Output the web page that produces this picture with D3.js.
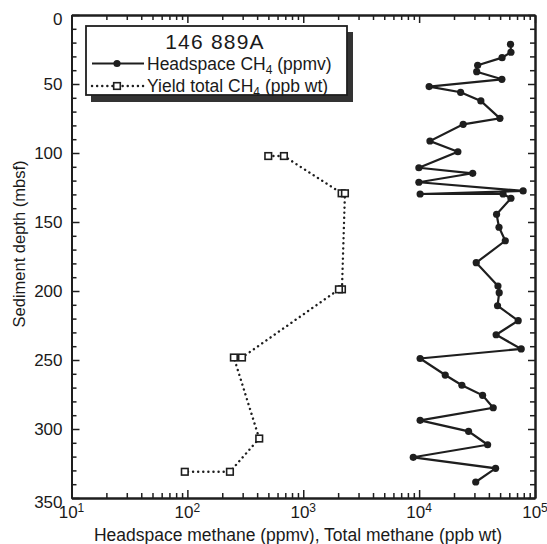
<!DOCTYPE html>
<html>
<head>
<meta charset="utf-8">
<script src="https://cdn.jsdelivr.net/npm/d3@7"></script>
<style>
  html, body { margin: 0; padding: 0; background: #fff; }
  svg { display: block; }
  text { font-family: "Liberation Sans", Arial, Helvetica, sans-serif; fill: #1a1a1a; }
</style>
</head>
<body>
<svg id="chart" width="547" height="544"></svg>
<script>
// ---- Data ----
const headspaceDepth = [21.2, 27.0, 30.9, 36.4, 41.1, 46.6, 51.9, 56.0, 62.3, 74.9, 79.2, 91.3, 99.1, 110.7, 114.7,
  121.2, 127.5, 129.7, 129.7, 132.8, 144.4, 153.8, 163.6, 179.5, 196.4, 201.2, 210.7, 221.5, 231.7, 242.0,
  248.9, 260.9, 268.3, 275.6, 284.6, 293.7, 301.7, 311.4, 320.5, 328.5, 338.4];
const headspaceCH4 = [61500, 62000, 52000, 32000, 31400, 51800, 12200, 22800, 34100, 49800, 24000, 12400, 21600, 9950, 29000,
  9950, 79000, 10200, 53000, 62000, 46600, 48900, 55400, 31100, 47900, 49100, 47500, 71600, 46200, 76000,
  10200, 16800, 23400, 35300, 43600, 10200, 26700, 39000, 8900, 45700, 30800];

const yieldDepth = [102.2, 102.2, 129.2, 129.2, 198.8, 198.8, 248.2, 248.2, 306.9, 331.0, 331.0];
const yieldCH4   = [499, 681, 2144, 2290, 2158, 2032, 296, 252, 417, 233, 95];

const xMajorTicks = [10, 100, 1000, 10000, 100000];
const xTickExponents = ["1", "2", "3", "4", "5"];
const yMajorTicks = [0, 50, 100, 150, 200, 250, 300, 350];

const legendTitle = "146 889A";
const seriesNames = [["Headspace CH", "4", " (ppmv)"], ["Yield total CH", "4", " (ppb wt)"]];
const xTitle = "Headspace methane (ppmv), Total methane (ppb wt)";
const yTitle = "Sediment depth (mbsf)";

// ---- Layout ----
const L = 71.5, R = 535, T = 15, B = 498;
const ink = "#1e1e1e";
const svg = d3.select("#chart");

const x = d3.scaleLog().domain([10, 100000]).range([L, R]);
const y = d3.scaleLinear().domain([0, 350]).range([T, B]);

const xMinor = x.ticks().filter(v => !xMajorTicks.includes(v));
const yMinor = d3.range(0, 351, 10).filter(v => v % 50 !== 0);

function styleAxis(g) {
  g.selectAll("path.domain").attr("stroke", ink).attr("stroke-width", 2);
  g.selectAll(".tick line").attr("stroke", ink).attr("stroke-width", 1.5);
  g.selectAll(".tick text").remove();
}

// bottom axis
svg.append("g").attr("transform", `translate(0,${B})`)
  .call(d3.axisBottom(x).tickValues(xMajorTicks).tickSizeInner(-8).tickSizeOuter(0).tickFormat(""))
  .call(styleAxis);
svg.append("g").attr("transform", `translate(0,${B})`)
  .call(d3.axisBottom(x).tickValues(xMinor).tickSizeInner(-5).tickSizeOuter(0).tickFormat(""))
  .call(styleAxis);
// top axis
svg.append("g").attr("transform", `translate(0,${T})`)
  .call(d3.axisTop(x).tickValues(xMajorTicks).tickSizeInner(-8).tickSizeOuter(0).tickFormat(""))
  .call(styleAxis);
svg.append("g").attr("transform", `translate(0,${T})`)
  .call(d3.axisTop(x).tickValues(xMinor).tickSizeInner(-5).tickSizeOuter(0).tickFormat(""))
  .call(styleAxis);
// left axis
svg.append("g").attr("transform", `translate(${L},0)`)
  .call(d3.axisLeft(y).tickValues(yMajorTicks).tickSizeInner(-8).tickSizeOuter(0).tickFormat(""))
  .call(styleAxis);
svg.append("g").attr("transform", `translate(${L},0)`)
  .call(d3.axisLeft(y).tickValues(yMinor).tickSizeInner(-5).tickSizeOuter(0).tickFormat(""))
  .call(styleAxis);
// right axis
svg.append("g").attr("transform", `translate(${R},0)`)
  .call(d3.axisRight(y).tickValues(yMajorTicks).tickSizeInner(-7).tickSizeOuter(0).tickFormat(""))
  .call(styleAxis);
svg.append("g").attr("transform", `translate(${R},0)`)
  .call(d3.axisRight(y).tickValues(yMinor).tickSizeInner(-5).tickSizeOuter(0).tickFormat(""))
  .call(styleAxis);

// y tick labels
svg.append("g").selectAll("text").data(yMajorTicks).join("text")
  .attr("x", L - 9)
  .attr("y", (d, i) => y(d) + (i === 0 || i === yMajorTicks.length - 1 ? 4 : 0))
  .attr("dy", "0.35em")
  .attr("text-anchor", "end")
  .attr("font-size", 17)
  .text(d => d);

// x tick labels with superscripts
const xl = svg.append("g").selectAll("text").data(xMajorTicks).join("text")
  .attr("x", d => x(d))
  .attr("y", 518)
  .attr("text-anchor", "middle")
  .attr("font-size", 17);
xl.append("tspan").text("10");
xl.append("tspan").attr("dy", -6).attr("font-size", 12).text((d, i) => xTickExponents[i]);

// axis titles
svg.append("text").attr("x", 298).attr("y", 541).attr("text-anchor", "middle")
  .attr("font-size", 17.5).text(xTitle);
svg.append("text").attr("transform", `translate(25,244) rotate(-90)`).attr("text-anchor", "middle")
  .attr("font-size", 16.5).text(yTitle);

// ---- Series ----
const hsData = headspaceDepth.map((d, i) => ({ d, v: headspaceCH4[i] }));
const ydData = yieldDepth.map((d, i) => ({ d, v: yieldCH4[i] }));
const line = d3.line().x(p => x(p.v)).y(p => y(p.d));

svg.append("path").datum(ydData).attr("d", line)
  .attr("fill", "none").attr("stroke", ink).attr("stroke-width", 2.4)
  .attr("stroke-dasharray", "0.1,5").attr("stroke-linecap", "round");
svg.append("g").selectAll("rect").data(ydData).join("rect")
  .attr("x", p => x(p.v) - 3.3).attr("y", p => y(p.d) - 3.3)
  .attr("width", 6.6).attr("height", 6.6)
  .attr("fill", "#fff").attr("stroke", ink).attr("stroke-width", 1.6);

svg.append("path").datum(hsData).attr("d", line)
  .attr("fill", "none").attr("stroke", ink).attr("stroke-width", 2.2);
svg.append("g").selectAll("circle").data(hsData).join("circle")
  .attr("cx", p => x(p.v)).attr("cy", p => y(p.d)).attr("r", 3.6)
  .attr("fill", ink);

// ---- Legend ----
const lg = svg.append("g");
lg.append("rect").attr("x", 91).attr("y", 32).attr("width", 262).attr("height", 70).attr("fill", "#333");
lg.append("rect").attr("x", 86).attr("y", 26).attr("width", 261).attr("height", 69)
  .attr("fill", "#fff").attr("stroke", ink).attr("stroke-width", 1.8);
lg.append("text").attr("x", 215).attr("y", 49).attr("text-anchor", "middle")
  .attr("font-size", 21).attr("letter-spacing", 1.2).text(legendTitle);

const rowsY = [63.5, 86];
// row 1: solid + circle
lg.append("line").attr("x1", 92).attr("x2", 144).attr("y1", rowsY[0]).attr("y2", rowsY[0])
  .attr("stroke", ink).attr("stroke-width", 2.2);
lg.append("circle").attr("cx", 117).attr("cy", rowsY[0]).attr("r", 3.6).attr("fill", ink);
// row 2: dotted + square
lg.append("line").attr("x1", 92).attr("x2", 144).attr("y1", rowsY[1]).attr("y2", rowsY[1])
  .attr("stroke", ink).attr("stroke-width", 2.4).attr("stroke-dasharray", "0.1,5").attr("stroke-linecap", "round");
lg.append("rect").attr("x", 117 - 3.3).attr("y", rowsY[1] - 3.3).attr("width", 6.6).attr("height", 6.6)
  .attr("fill", "#fff").attr("stroke", ink).attr("stroke-width", 1.6);

seriesNames.forEach((parts, i) => {
  const t = lg.append("text").attr("x", 147).attr("y", rowsY[i]).attr("dy", "0.35em").attr("font-size", 17.5);
  t.append("tspan").text(parts[0]);
  t.append("tspan").attr("dy", 4).attr("font-size", 12).text(parts[1]);
  t.append("tspan").attr("dy", -4).text(parts[2]);
});
</script>
</body>
</html>
